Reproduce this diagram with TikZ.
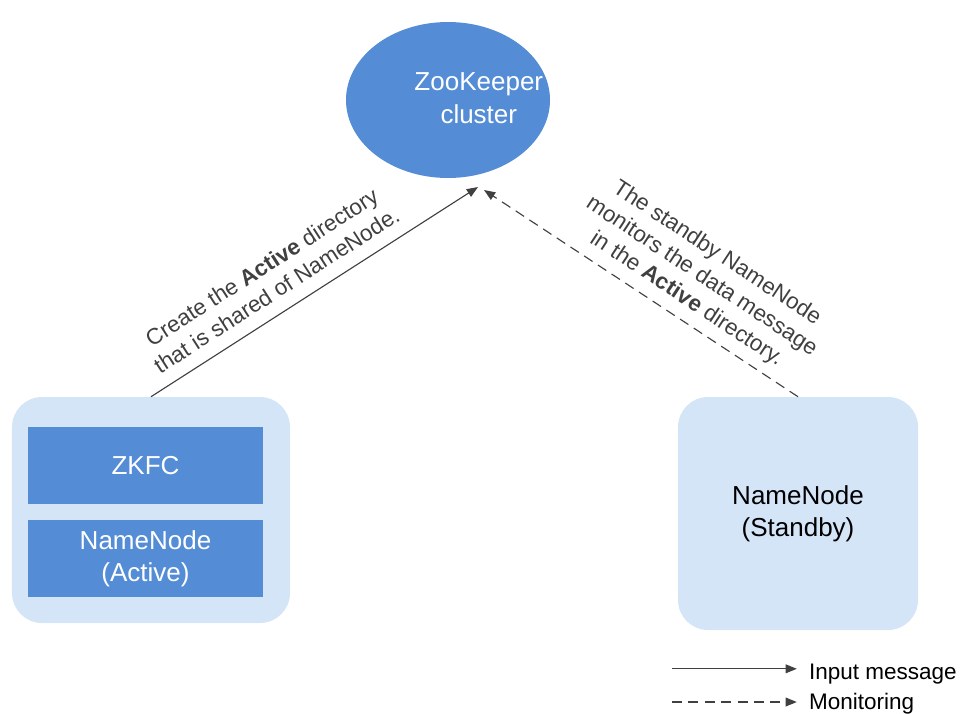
\documentclass[tikz,border=0pt]{standalone}
\usepackage{fontspec}
\setmainfont{Liberation Sans}
\usepackage{xcolor}
\usepackage{tikz}
\usetikzlibrary{arrows.meta, positioning, shapes.geometric}
\definecolor{zkblue}{RGB}{84,140,214}
\definecolor{zklight}{RGB}{213,229,248}
\definecolor{zkline}{RGB}{64,64,64}
\tikzset{
  darkbox/.style={draw=none, fill=zkblue, text=white, align=center,
                  font=\fontsize{18.5}{23}\selectfont, minimum width=5.875cm, minimum height=1.925cm},
  hostbox/.style={draw=none, fill=zklight, rounded corners=0.75cm, align=center,
                  font=\fontsize{18.5}{23}\selectfont},
  msgarrow/.style={-{Triangle[length=2.8mm, width=2.2mm]}, thick, zkline},
  monarrow/.style={msgarrow, dash pattern=on 2.5mm off 1.6mm},
  arrowlabel/.style={font=\fontsize{16}{19.5}\selectfont, align=center},
  legendlabel/.style={font=\fontsize{16}{19}\selectfont, anchor=west, inner sep=0pt}
}
\begin{document}
\begin{tikzpicture}[
  cluster/.style={ellipse, fill=zkblue, minimum width=5.1cm, minimum height=3.9cm},
  clustertext/.style={text=white, align=center, font=\fontsize{18.5}{23.5}\selectfont},
]
\useasboundingbox (0,0) rectangle (24.2,-17.825);

% --- Column positions ---
\def\xleft{3.775}
\def\xright{19.95}
\def\xlegend{16.8}

% --- ZooKeeper cluster (text sits right of centre) ---
\node[cluster] (zk) at (11.2,-2.5) {};
\node[clustertext] (zklabel) at (11.97,-2.45) {ZooKeeper\\cluster};
\coordinate (zkinA) at (11.95,-4.675);
\coordinate (zkinB) at (12.1,-4.75);

% --- Active host (ZKFC + NameNode) ---
\node[hostbox, minimum width=6.95cm, minimum height=5.65cm] (active) at (\xleft,-12.75) {};
\node[darkbox] (zkfc) at (3.6375,-11.6375) {ZKFC};
\node[darkbox] (nnactive) at (3.6375,-13.9625) {NameNode\\(Active)};

% --- Standby host ---
\node[hostbox, minimum width=6cm, minimum height=5.825cm] (standby) at (\xright,-12.8375) {NameNode\\(Standby)};

% --- Messages to the cluster ---
\draw[msgarrow] (active.north) -- (zkinA)
  node[pos=0.42, sloped, above=6pt, arrowlabel] (lcreate) {Create the \textbf{Active} directory\\that is shared of NameNode.};
\draw[monarrow] (standby.north) -- (zkinB)
  node[pos=0.39, sloped, above=3pt, arrowlabel] (lwatch) {The standby NameNode\\monitors the data message\\in the \textbf{Active} directory.};

% --- Legend ---
\node[legendlabel] (linput) at (20.22,-16.85) {Input message};
\node[legendlabel] (lmon) at (20.22,-17.6) {Monitoring};
\coordinate (linputstart) at (\xlegend,-16.72);
\coordinate (lmonstart) at (\xlegend,-17.55);
\draw[msgarrow] (linputstart) -- ([xshift=-0.3cm]linput.west |- linputstart);
\draw[monarrow] (lmonstart) -- ([xshift=-0.3cm]lmon.west |- lmonstart);

\end{tikzpicture}
\end{document}
